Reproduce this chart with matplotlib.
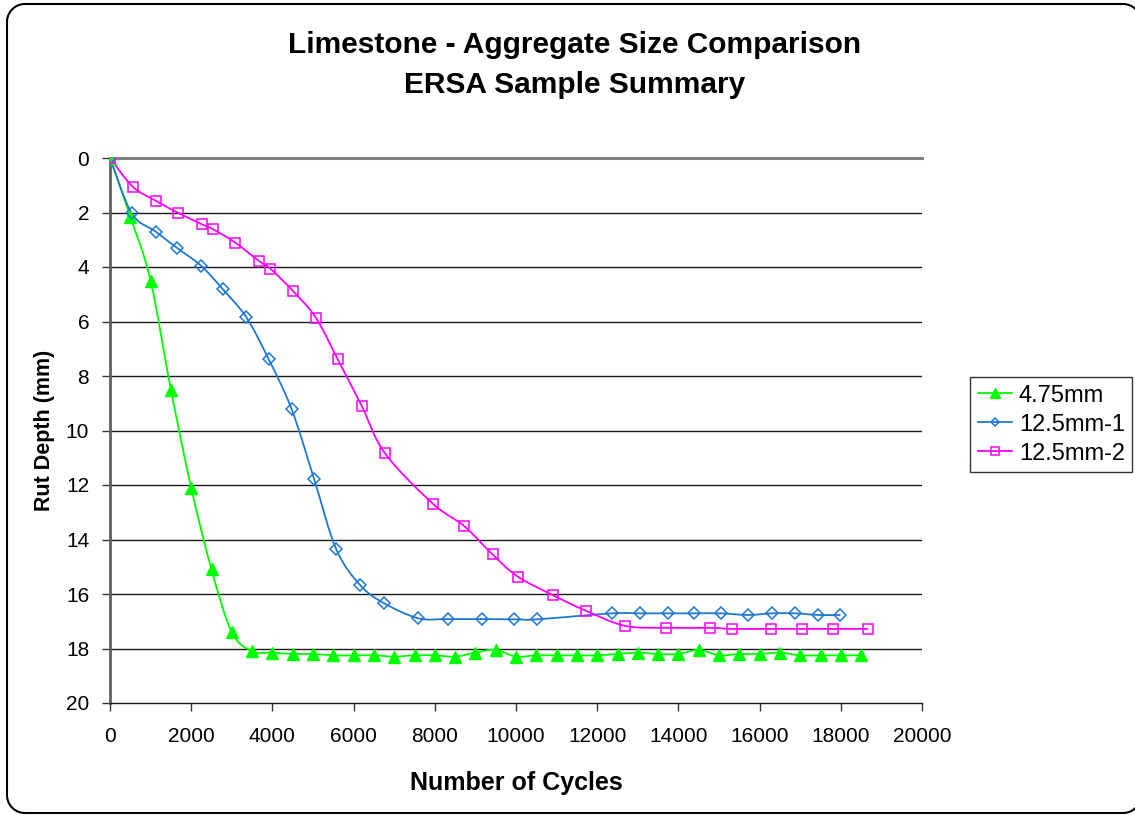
import numpy as np
import matplotlib
matplotlib.use("Agg")
import matplotlib.pyplot as plt
from matplotlib.path import Path
from matplotlib.patches import PathPatch
from matplotlib.lines import Line2D
from matplotlib.transforms import IdentityTransform

plt.rcParams["font.family"] = ["Liberation Sans", "DejaVu Sans"]

# ---- data -------------------------------------------------------------
cycles_475 = [0, 500, 1000, 1500, 2000, 2500, 3000, 3500, 4000, 4500, 5000,
              5500, 6000, 6500, 7000, 7500, 8000, 8500, 9000, 9500, 10000,
              10500, 11000, 11500, 12000, 12500, 13000, 13500, 14000, 14500,
              15000, 15500, 16000, 16500, 17000, 17500, 18000, 18500]
rut_475 = [0, 2.15, 4.5, 8.5, 12.1, 15.1, 17.4, 18.1, 18.15, 18.2, 18.2,
           18.25, 18.25, 18.25, 18.3, 18.25, 18.25, 18.3, 18.15, 18.05, 18.3,
           18.25, 18.25, 18.25, 18.25, 18.2, 18.15, 18.2, 18.2, 18.05,
           18.25, 18.2, 18.2, 18.15, 18.25, 18.25, 18.25, 18.25]

cycles_125_1 = [0, 535, 1125, 1660, 2240, 2775, 3360, 3910, 4475, 5025, 5570,
                6160, 6750, 7595, 8315, 9155, 9960, 10510, 12365, 13060, 13735,
                14385, 15040, 15715, 16300, 16870, 17445, 17990]
rut_125_1 = [0, 2.03, 2.70, 3.31, 3.95, 4.81, 5.85, 7.39, 9.22, 11.77, 14.35,
             15.67, 16.34, 16.89, 16.92, 16.92, 16.93, 16.93, 16.71, 16.71, 16.71,
             16.71, 16.71, 16.77, 16.71, 16.71, 16.77, 16.77]

cycles_125_2 = [0, 560, 1140, 1675, 2260, 2545, 3090, 3660, 3950, 4500, 5070,
                5610, 6200, 6775, 7955, 8720, 9425, 10040, 10905, 11730, 12690,
                13695, 14770, 15320, 16280, 17045, 17815, 18675]
rut_125_2 = [0, 1.05, 1.58, 2.01, 2.43, 2.62, 3.11, 3.77, 4.06, 4.87, 5.86,
             7.39, 9.10, 10.84, 12.69, 13.50, 14.55, 15.36, 16.04, 16.62, 17.17,
             17.24, 17.24, 17.28, 17.28, 17.28, 17.28, 17.28]

series_labels = ["4.75mm", "12.5mm-1", "12.5mm-2"]
x_ticks = list(range(0, 20001, 2000))
y_ticks = list(range(0, 21, 2))

# ---- styles -----------------------------------------------------------
GREEN = "#00FF00"
BLUE = "#1E78D2"
MAGENTA = "#FF00FF"


def smooth_path(xs, ys):
    """Catmull-Rom style Bezier curve through the points (data space)."""
    pts = np.column_stack([xs, ys]).astype(float)
    n = len(pts)
    verts = [pts[0]]
    codes = [Path.MOVETO]
    for i in range(n - 1):
        p0 = pts[i - 1] if i > 0 else pts[i]
        p1 = pts[i]
        p2 = pts[i + 1]
        p3 = pts[i + 2] if i + 2 < n else pts[i + 1]
        c1 = p1 + (p2 - p0) / 6.0
        c2 = p2 - (p3 - p1) / 6.0
        verts += [c1, c2, p2]
        codes += [Path.CURVE4] * 3
    return Path(verts, codes)


def frame_outline(x0, y0, x1, y1, r, xmax):
    """Rounded-rectangle outline as a polyline, kept to x <= xmax (pixels)."""
    def arc(cx, cy, a0, a1):
        t = np.radians(np.linspace(a0, a1, 40))
        return np.column_stack([cx + r * np.cos(t), cy + r * np.sin(t)])
    pts = np.vstack([
        arc(x1 - r, y1 - r, 0, 90),      # top-right
        arc(x0 + r, y1 - r, 90, 180),    # top-left
        arc(x0 + r, y0 + r, 180, 270),   # bottom-left
        arc(x1 - r, y0 + r, 270, 360),   # bottom-right
    ])
    return pts[pts[:, 0] <= xmax]


fig = plt.figure(figsize=(11.35, 8.15), dpi=100)
ax = fig.add_axes([110 / 1135, 1 - 703 / 815, (922 - 110) / 1135, (703 - 158) / 815])

series = [
    (cycles_475, rut_475, GREEN, dict(marker="^", markersize=9, markerfacecolor=GREEN,
                                      markeredgecolor=GREEN, markeredgewidth=1)),
    (cycles_125_1, rut_125_1, BLUE, dict(marker="D", markersize=6, markerfacecolor="none",
                                         markeredgecolor=BLUE, markeredgewidth=1.1)),
    (cycles_125_2, rut_125_2, MAGENTA, dict(marker="s", markersize=7.5, markerfacecolor="none",
                                            markeredgecolor=MAGENTA, markeredgewidth=1.1)),
]

handles = []
for (xs, ys, col, mk), lab in zip(series, series_labels):
    ax.add_patch(PathPatch(smooth_path(xs, ys), fill=False, edgecolor=col,
                           linewidth=1.3, zorder=3))
    ax.plot(xs, ys, linestyle="none", zorder=4, **mk)
    hk = dict(mk)
    hk["markersize"] = mk["markersize"] * 0.75
    handles.append(Line2D([], [], color=col, linewidth=1.3, label=lab, **hk))

ax.set_xlim(0, 20000)
ax.set_ylim(20, 0)
ax.set_xticks(x_ticks)
ax.set_yticks(y_ticks)
ax.set_xticklabels([str(v) for v in x_ticks])
ax.set_yticklabels([str(v) for v in y_ticks])

for yv in y_ticks[1:-1]:
    ax.axhline(yv, color="#1a1a1a", linewidth=1.0, zorder=1)

ax.spines["right"].set_visible(False)
ax.spines["top"].set_color("#808080")
ax.spines["top"].set_linewidth(2.2)
ax.spines["left"].set_color("#606060")
ax.spines["left"].set_linewidth(2.0)
ax.spines["bottom"].set_color("#1a1a1a")
ax.spines["bottom"].set_linewidth(1.0)

ax.tick_params(axis="both", direction="out", length=6, width=1, color="#333333",
               labelsize=15, pad=9)
ax.tick_params(axis="x", pad=11)

ax.set_xlabel("Number of Cycles", fontsize=18, fontweight="bold", labelpad=18)
ax.set_ylabel("Rut Depth (mm)", fontsize=15.5, fontweight="bold", labelpad=8)

fig.text(575 / 1135, 1 - 65 / 815, "Limestone - Aggregate Size Comparison\nERSA Sample Summary",
         ha="center", va="center", fontsize=21.5, fontweight="bold", linespacing=1.55)

leg = fig.legend(handles=handles, loc="upper left",
                 bbox_to_anchor=(970 / 1135, 1 - 377 / 815),
                 fontsize=17, frameon=True, fancybox=False, handlelength=1.45,
                 handletextpad=0.3, borderpad=0.32, labelspacing=0.3,
                 borderaxespad=0)
leg.get_frame().set_edgecolor("black")
leg.get_frame().set_linewidth(1.0)

# rounded outer frame of the chart area (pixel coordinates, origin bottom-left)
outline = frame_outline(7, 2, 1141, 811, 18, 1135.5)
fig.lines.append(Line2D(outline[:, 0], outline[:, 1], transform=IdentityTransform(),
                        color="black", linewidth=1.5, solid_joinstyle="round"))

fig.savefig("out.png", dpi=100, facecolor="white")
